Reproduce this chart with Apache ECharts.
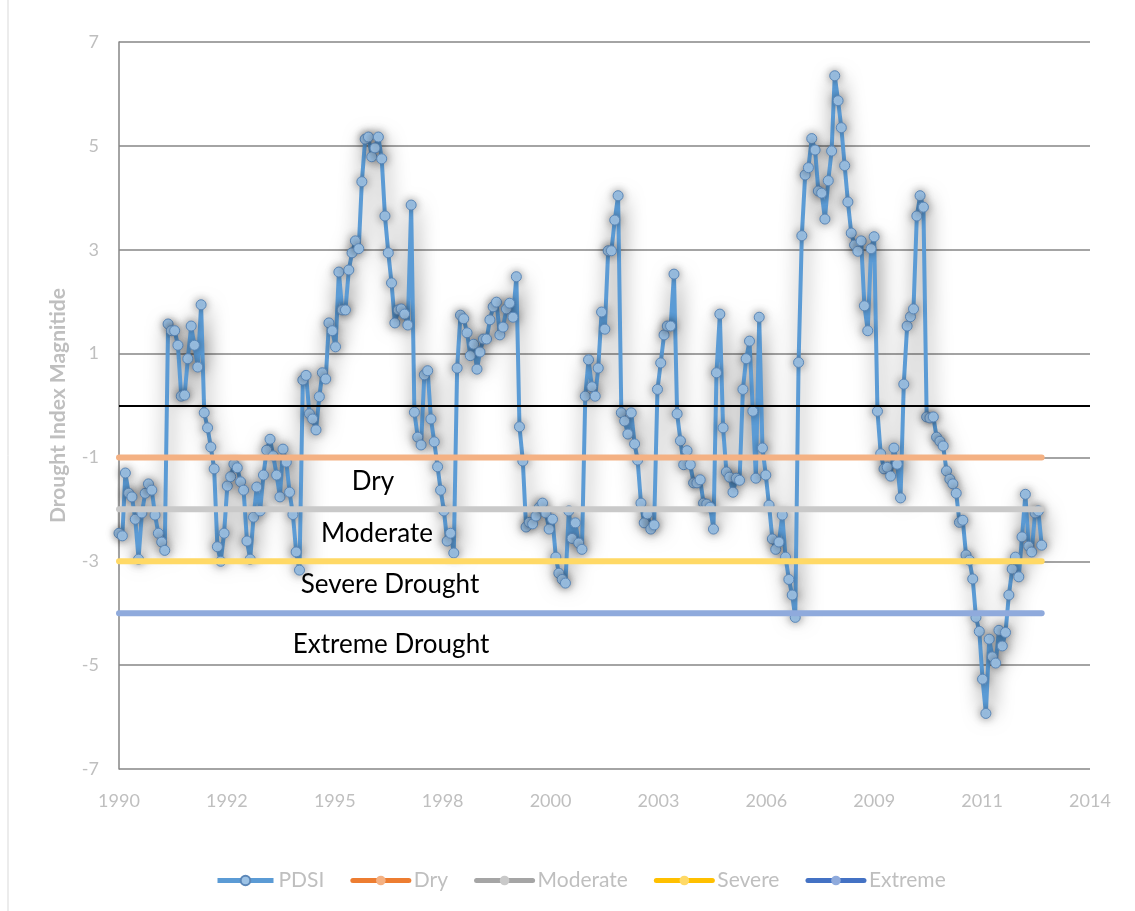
<!DOCTYPE html>
<html lang="en">
<head>
    <meta charset="UTF-8">
    <script src="https://cdn.jsdelivr.net/npm/echarts@6/dist/echarts.min.js"></script>
    <title>PDSI</title>
    <style>
        html, body { margin: 0; padding: 0; background: #fff; }
        #main { width: 1135px; height: 911px; }
    </style>
</head>
<body>
    <div id="main"></div>
    <script type="text/javascript">
        // monthly PDSI, starting Jan 1990
        var startYear = 1990;
        var pdsi = [
            -2.46,-2.51,-1.30,-1.69,-1.76,-2.19,-2.96,-2.07,-1.69,-1.51,
            -1.63,-2.11,-2.46,-2.63,-2.79,1.57,1.44,1.44,1.16,0.18,
            0.20,0.90,1.53,1.16,0.74,1.94,-0.14,-0.43,-0.80,-1.22,
            -2.72,-3.00,-2.46,-1.55,-1.37,-1.13,-1.20,-1.47,-1.63,-2.61,
            -2.96,-2.15,-1.57,-2.03,-1.34,-0.86,-0.65,-0.97,-1.34,-1.76,
            -0.84,-1.09,-1.67,-2.10,-2.82,-3.17,0.49,0.58,-0.16,-0.26,
            -0.47,0.17,0.63,0.51,1.59,1.44,1.13,2.57,1.84,1.84,
            2.61,2.94,3.17,3.02,4.31,5.13,5.17,4.79,4.96,5.17,
            4.75,3.65,2.94,2.36,1.59,1.84,1.86,1.76,1.55,3.86,
            -0.13,-0.61,-0.76,0.59,0.67,-0.26,-0.70,-1.18,-1.63,-2.03,
            -2.61,-2.46,-2.84,0.72,1.74,1.67,1.40,0.96,1.18,0.70,
            1.03,1.28,1.28,1.65,1.90,1.99,1.36,1.51,1.86,1.97,
            1.70,2.48,-0.41,-1.07,-2.34,-2.25,-2.28,-2.13,-1.96,-1.88,-2.07,
            -2.38,-2.19,-2.92,-3.23,-3.35,-3.42,-2.03,-2.56,-2.26,-2.65,-2.77,
            0.18,0.88,0.36,0.18,0.72,1.80,1.47,2.98,2.98,3.57,
            4.04,-0.14,-0.30,-0.55,-0.14,-0.74,-1.05,-1.88,-2.26,-2.09,
            -2.38,-2.30,0.31,0.82,1.36,1.53,1.53,2.53,-0.16,-0.68,
            -1.14,-0.87,-1.14,-1.49,-1.49,-1.43,-1.88,-1.90,-1.96,-2.38,0.63,
            1.76,-0.43,-1.28,-1.38,-1.67,-1.40,-1.44,0.31,0.90,1.24,
            -0.11,-1.40,1.70,-0.82,-1.34,-1.92,-2.57,-2.77,-2.63,-2.11,
            -2.92,-3.35,-3.65,-4.08,0.83,3.27,4.44,4.58,5.14,4.92,
            4.13,4.09,3.59,4.33,4.90,6.35,5.87,5.35,4.62,3.92,
            3.32,3.09,2.97,3.17,1.92,1.44,3.02,3.25,-0.11,-0.93,
            -1.22,-1.19,-1.36,-0.82,-1.13,-1.78,0.41,1.53,1.71,1.86,
            3.65,4.04,3.82,-0.22,-0.24,-0.22,-0.61,-0.69,-0.78,-1.26,
            -1.42,-1.51,-1.69,-2.25,-2.21,-2.88,-2.98,-3.34,-4.08,-4.35,
            -5.27,-5.93,-4.50,-4.84,-4.96,-4.33,-4.63,-4.37,-3.65,-3.15,
            -2.92,-3.30,-2.53,-1.71,-2.71,-2.82,-2.07,-2.03,-2.69
        ];

        // drought thresholds
        var levelNames = ['Dry', 'Moderate', 'Severe', 'Extreme'];
        var levelValues = [-1, -2, -3, -4];
        var levelLabels = ['Dry', 'Moderate', 'Severe Drought', 'Extreme Drought'];

        // x axis ticks every 1000 days from 1 Jan 1990
        var tickDays = 1000;
        var axisMaxDays = 9000;

        var DAY = 86400000;
        var t0 = Date.UTC(startYear, 0, 1);
        function monthDay(i) {
            return (Date.UTC(startYear, i, 1) - t0) / DAY;
        }
        var pdsiData = pdsi.map(function (v, i) { return [monthDay(i), v]; });
        var firstDay = monthDay(0);
        var lastDay = monthDay(pdsi.length - 1);

        var lineColors = ['#F4B183', '#C9C9C9', '#FFD966', '#8FAADC'];
        var legendLine = ['#ED7D31', '#A5A5A5', '#FFC000', '#4472C4'];

        var font = 'Lato, "Open Sans", sans-serif';
        var grayText = '#bfbfbf';

        var series = [{
            name: 'PDSI',
            type: 'line',
            data: pdsiData,
            z: 2,
            symbol: 'circle',
            symbolSize: 10,
            lineStyle: {
                color: '#5B9BD5',
                width: 4,
                shadowBlur: 20,
                shadowColor: 'rgba(0,0,0,0.6)',
                shadowOffsetX: 2,
                shadowOffsetY: 2
            },
            itemStyle: {
                color: '#9DC3E6',
                borderColor: '#5B87B8',
                borderWidth: 1,
                shadowBlur: 8,
                shadowColor: 'rgba(0,0,0,0.4)'
            },
            markLine: {
                silent: true,
                symbol: 'none',
                label: { show: false },
                lineStyle: { color: '#000', width: 2, type: 'solid' },
                data: [{ yAxis: 0 }]
            },
            animation: false
        }];
        levelNames.forEach(function (n, k) {
            series.push({
                name: n,
                type: 'line',
                z: 3,
                symbol: 'circle',
                symbolSize: 10,
                showSymbol: false,
                data: [[firstDay, levelValues[k]], [lastDay, levelValues[k]]],
                lineStyle: { color: lineColors[k], width: 6, cap: 'round' },
                itemStyle: { color: lineColors[k] },
                animation: false
            });
        });

        var textPos = [[373, 482], [377, 534], [390, 585], [391, 645]];
        var texts = textPos.map(function (p, k) {
            return {
                type: 'text', x: p[0], y: p[1], z: 10,
                style: {
                    text: levelLabels[k],
                    textAlign: 'center', textVerticalAlign: 'middle',
                    font: '26px ' + font, fill: '#000'
                }
            };
        });

        var myChart = echarts.init(document.getElementById('main'));
        var option = {
            backgroundColor: '#fff',
            animation: false,
            grid: { left: 119, right: 45, top: 42, bottom: 142 },
            legend: {
                left: 210, top: 865,
                itemWidth: 56, itemHeight: 12, itemGap: 26,
                textStyle: { color: grayText, fontSize: 21, fontFamily: font },
                data: [{ name: 'PDSI', itemStyle: { color: '#9DC3E6' }, lineStyle: { color: '#5B9BD5', width: 5 } }]
                    .concat(levelNames.map(function (n, k) {
                        return { name: n, itemStyle: { color: lineColors[k] }, lineStyle: { color: legendLine[k], width: 5 } };
                    }))
            },
            xAxis: {
                type: 'value',
                min: 0, max: axisMaxDays, interval: tickDays,
                axisLine: { show: false },
                axisTick: { show: false },
                splitLine: { show: false },
                axisLabel: {
                    color: grayText, fontSize: 18, fontFamily: font, margin: 23,
                    formatter: function (v) { return new Date(t0 + v * DAY).getUTCFullYear(); }
                }
            },
            yAxis: {
                type: 'value',
                min: -7, max: 7, interval: 2,
                name: 'Drought Index Magnitide',
                nameLocation: 'middle', nameGap: 50, nameRotate: 90,
                nameTextStyle: { color: grayText, fontSize: 21, fontWeight: 'bold', fontFamily: font },
                axisLine: { show: true, onZero: false, lineStyle: { color: '#868686', width: 1.5 } },
                axisTick: { show: false },
                splitLine: { lineStyle: { color: '#868686', width: 1.5 } },
                axisLabel: { color: grayText, fontSize: 18, fontFamily: font, margin: 20 }
            },
            graphic: [{
                type: 'line', shape: { x1: 8, y1: 0, x2: 8, y2: 911 },
                style: { stroke: '#d9d9d9', lineWidth: 1 }
            }].concat(texts),
            series: series
        };
        myChart.setOption(option);
    </script>
</body>
</html>
